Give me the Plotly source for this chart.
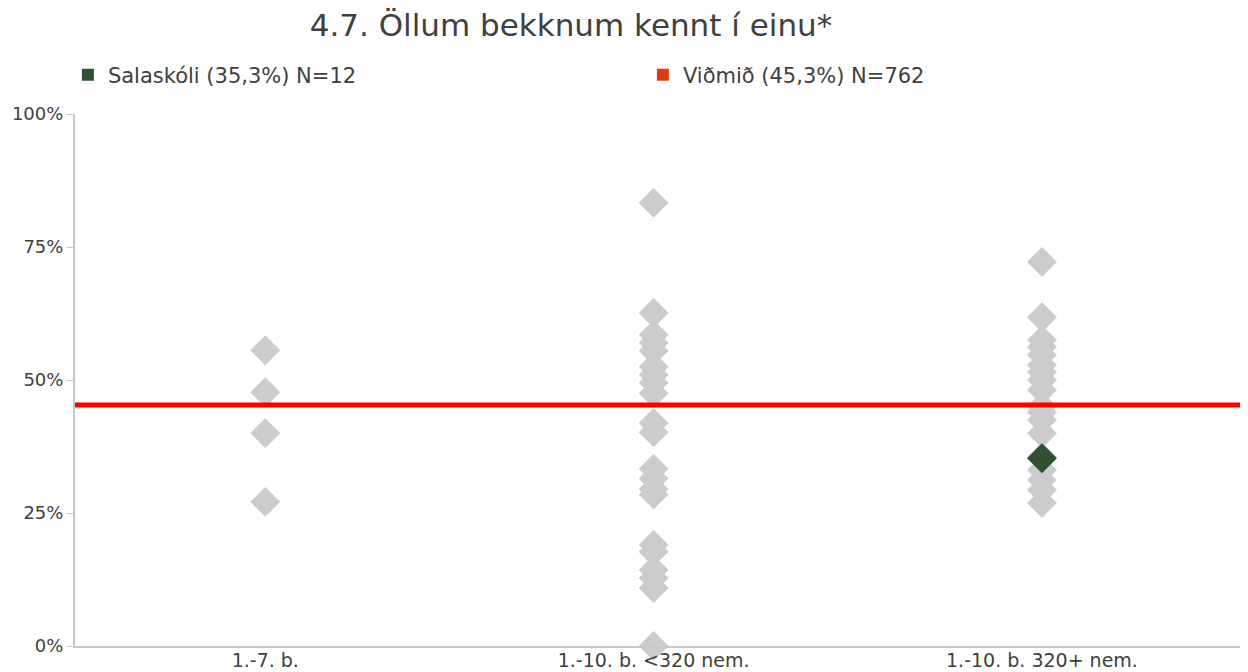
import plotly.graph_objects as go

categories = ["1.-7. b.", "1.-10. b. <320 nem.", "1.-10. b. 320+ nem."]
cat1_values = [55.6, 47.7, 40.0, 27.1]
cat2_values = [83.3, 62.6, 58.5, 57.0, 55.5, 52.5, 51.0, 49.5, 47.5,
               41.9, 40.2, 33.3, 31.5, 29.5, 28.5, 19.0, 17.7, 14.3, 12.8, 10.9, 0.0]
cat3_values = [72.2, 61.8, 57.5, 56.2, 54.7, 52.8, 51.5, 50.0, 48.1,
               45.0, 44.0, 42.5, 40.0, 35.5, 33.1, 31.2, 29.3, 26.9]
school_category = "1.-10. b. 320+ nem."
school_value = 35.3
benchmark_value = 45.3
school_label = "Salaskóli (35,3%) N=12"
benchmark_label = "Viðmið (45,3%) N=762"
y_ticks = [0, 25, 50, 75, 100]
y_tick_labels = ["0%", "25%", "50%", "75%", "100%"]

FONT = "DejaVu Sans"
TXT = "#404040"

fig = go.Figure()
for cat, vals in zip(categories, [cat1_values, cat2_values, cat3_values]):
    fig.add_trace(go.Scatter(
        x=[cat] * len(vals), y=vals, mode="markers",
        marker=dict(symbol="diamond", size=23, color="#cccccc"),
        showlegend=False, cliponaxis=False, hoverinfo="y"))

fig.add_trace(go.Scatter(
    x=[school_category], y=[school_value], mode="markers",
    marker=dict(symbol="diamond", size=23, color="#2e5230"),
    showlegend=False, cliponaxis=False))

# legend entries
fig.add_trace(go.Scatter(x=[None], y=[None], mode="markers", name=school_label,
                         marker=dict(symbol="square", size=15, color="#2e5230")))
fig.add_trace(go.Scatter(x=[None], y=[None], mode="markers", name=benchmark_label,
                         marker=dict(symbol="square", size=15, color="#e03a12")))

fig.add_shape(type="line", xref="paper", x0=0, x1=1, yref="y",
              y0=benchmark_value, y1=benchmark_value,
              line=dict(color="#ff0000", width=5), layer="above")

fig.update_layout(
    width=1248, height=672,
    margin=dict(l=67, r=16, t=106, b=34, autoexpand=False),
    paper_bgcolor="white", plot_bgcolor="white",
    font=dict(family=FONT, color=TXT, size=18),
    title=dict(text="4.7. Öllum bekknum kennt í einu*", x=0.4511, xanchor="center",
               y=0.9747, yanchor="middle", font=dict(size=31, family=FONT, color=TXT)),
    showlegend=True,
    legend=dict(orientation="h", xref="container", x=0.048, xanchor="left",
                yref="container", y=0.9003, yanchor="middle",
                entrywidth=530, entrywidthmode="pixels",
                font=dict(size=21, family=FONT, color=TXT),
                itemsizing="constant", bgcolor="rgba(0,0,0,0)"),
    xaxis=dict(type="category", categoryorder="array", categoryarray=categories,
               range=[-0.49, 2.51], showgrid=False, showline=True, linecolor="#c8c8c8",
               linewidth=2, ticks="", tickfont=dict(size=19, color=TXT),
               ticklabelstandoff=-4, zeroline=False, automargin=False),
    yaxis=dict(range=[0, 100], tickvals=y_ticks, ticktext=y_tick_labels,
               showgrid=False, showline=True, linecolor="#c8c8c8", linewidth=2,
               ticks="outside", ticklen=6, tickcolor="#c8c8c8",
               tickfont=dict(size=18, color=TXT), zeroline=False, automargin=False),
)

fig.write_html("out.html")
